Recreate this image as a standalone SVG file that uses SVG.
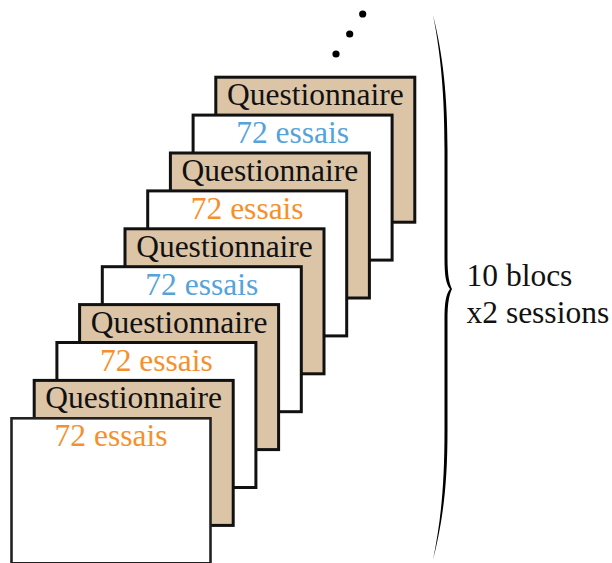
<svg xmlns="http://www.w3.org/2000/svg" width="612" height="563" viewBox="0 0 612 563">
<style>
.card{stroke:#111;stroke-width:3;}
.q{fill:#dcc4a6;}
.e{fill:#fff;}
text{font-family:"Liberation Serif","Times New Roman",serif;font-size:31.5px;}
.lbl{text-anchor:middle;}
.tq{fill:#111;}
.tb{fill:#55a3da;}
.to{fill:#f5902e;}
</style>
<rect width="612" height="563" fill="#fff"/>
<g id="dots" fill="#000">
<circle cx="362.7" cy="14" r="3.6"/>
<circle cx="349.7" cy="34" r="3.6"/>
<circle cx="336" cy="54" r="3.6"/>
</g>
<g id="card1" transform="translate(215.8,77.2)"><rect class="card q" width="199" height="145"/><text class="lbl tq" x="99.5" y="28">Questionnaire</text></g>
<g id="card2" transform="translate(193.1,115.1)"><rect class="card e" width="199" height="145"/><text class="lbl tb" x="99.5" y="28">72 essais</text></g>
<g id="card3" transform="translate(170.4,153)"><rect class="card q" width="199" height="145"/><text class="lbl tq" x="99.5" y="28">Questionnaire</text></g>
<g id="card4" transform="translate(147.7,190.9)"><rect class="card e" width="199" height="145"/><text class="lbl to" x="99.5" y="28">72 essais</text></g>
<g id="card5" transform="translate(125,228.8)"><rect class="card q" width="199" height="145"/><text class="lbl tq" x="99.5" y="28">Questionnaire</text></g>
<g id="card6" transform="translate(102.3,266.7)"><rect class="card e" width="199" height="145"/><text class="lbl tb" x="99.5" y="28">72 essais</text></g>
<g id="card7" transform="translate(79.6,304.6)"><rect class="card q" width="199" height="145"/><text class="lbl tq" x="99.5" y="28">Questionnaire</text></g>
<g id="card8" transform="translate(56.9,342.5)"><rect class="card e" width="199" height="145"/><text class="lbl to" x="99.5" y="28">72 essais</text></g>
<g id="card9" transform="translate(34.2,380.4)"><rect class="card q" width="199" height="145"/><text class="lbl tq" x="99.5" y="28">Questionnaire</text></g>
<g id="card10" transform="translate(11.5,418.3)"><rect class="card e" width="199" height="145" style="stroke:#222;stroke-width:2.6"/><text class="lbl to" x="99.5" y="28">72 essais</text></g>
<g id="brace">
<path fill="#000" d="M433,15 C443,55 447.5,95 447.5,150 L447.5,258 C447.5,276 449.5,284 452,289 C449.5,294 447.5,302 447.5,320 L447.5,430 C447.5,485 443,520 433,560 C441,520 444.5,485 444.5,430 L444.5,320 C444.5,302 446,294 450,289 C446,284 444.5,276 444.5,258 L444.5,150 C444.5,95 441,55 433,15 Z"/>
</g>
<g id="label" fill="#111">
<text x="466.5" y="286">10 blocs</text>
<text x="466.5" y="322.7">x2 sessions</text>
</g>
</svg>
